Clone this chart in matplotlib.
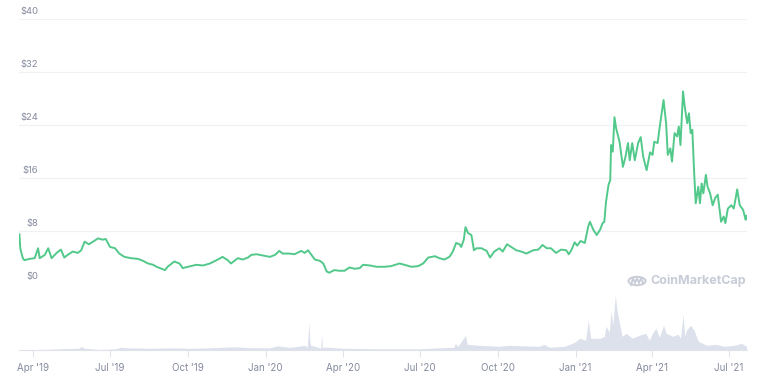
import matplotlib
matplotlib.use("Agg")
import matplotlib.pyplot as plt
import matplotlib.dates as mdates
import pandas as pd
from matplotlib.patches import Circle
from matplotlib.lines import Line2D

plt.rcParams['font.family'] = ['Inter', 'DejaVu Sans']

# price, USD
price_dates = [
    '2019-03-16', '2019-03-17', '2019-03-20', '2019-03-22', '2019-03-28', '2019-04-03', '2019-04-07',
    '2019-04-09', '2019-04-15', '2019-04-19', '2019-04-23', '2019-04-29', '2019-05-04', '2019-05-08',
    '2019-05-12', '2019-05-18', '2019-05-24', '2019-05-28', '2019-06-01', '2019-06-06', '2019-06-11',
    '2019-06-17', '2019-06-22', '2019-06-26', '2019-07-01', '2019-07-07', '2019-07-12', '2019-07-18',
    '2019-07-26', '2019-08-03', '2019-08-09', '2019-08-15', '2019-08-21', '2019-08-25', '2019-09-04',
    '2019-09-07', '2019-09-15', '2019-09-21', '2019-09-25', '2019-10-01', '2019-10-11', '2019-10-19',
    '2019-10-27', '2019-11-04', '2019-11-11', '2019-11-17', '2019-11-21', '2019-11-29', '2019-12-05',
    '2019-12-11', '2019-12-15', '2019-12-21', '2019-12-29', '2020-01-06', '2020-01-12', '2020-01-17',
    '2020-01-21', '2020-01-29', '2020-02-04', '2020-02-12', '2020-02-16', '2020-02-20', '2020-02-24',
    '2020-02-28', '2020-03-05', '2020-03-09', '2020-03-13', '2020-03-16', '2020-03-22', '2020-03-28',
    '2020-04-03', '2020-04-09', '2020-04-15', '2020-04-21', '2020-04-25', '2020-05-03', '2020-05-11',
    '2020-05-20', '2020-05-28', '2020-06-07', '2020-06-13', '2020-06-21', '2020-06-29', '2020-07-05',
    '2020-07-11', '2020-07-19', '2020-07-24', '2020-07-30', '2020-08-05', '2020-08-09', '2020-08-13',
    '2020-08-17', '2020-08-19', '2020-08-22', '2020-08-24', '2020-08-27', '2020-08-31', '2020-09-03',
    '2020-09-06', '2020-09-12', '2020-09-18', '2020-09-22', '2020-09-27', '2020-10-03', '2020-10-07',
    '2020-10-12', '2020-10-17', '2020-10-23', '2020-10-29', '2020-11-04', '2020-11-12', '2020-11-18',
    '2020-11-23', '2020-11-28', '2020-12-03', '2020-12-09', '2020-12-15', '2020-12-21', '2020-12-24',
    '2020-12-27', '2020-12-31', '2021-01-03', '2021-01-07', '2021-01-12', '2021-01-16', '2021-01-18',
    '2021-01-22', '2021-01-26', '2021-01-30', '2021-02-02', '2021-02-04', '2021-02-06', '2021-02-09',
    '2021-02-11', '2021-02-12', '2021-02-14', '2021-02-16', '2021-02-18', '2021-02-22', '2021-02-26',
    '2021-03-01', '2021-03-04', '2021-03-06', '2021-03-09', '2021-03-12', '2021-03-16', '2021-03-19',
    '2021-03-22', '2021-03-26', '2021-03-30', '2021-04-02', '2021-04-04', '2021-04-08', '2021-04-10',
    '2021-04-15', '2021-04-18', '2021-04-20', '2021-04-23', '2021-04-25', '2021-04-28', '2021-05-01',
    '2021-05-03', '2021-05-05', '2021-05-08', '2021-05-10', '2021-05-13', '2021-05-15', '2021-05-17',
    '2021-05-19', '2021-05-21', '2021-05-23', '2021-05-26', '2021-05-28', '2021-05-30', '2021-06-01',
    '2021-06-04', '2021-06-06', '2021-06-09', '2021-06-12', '2021-06-15', '2021-06-18', '2021-06-22',
    '2021-06-25', '2021-06-27', '2021-06-30', '2021-07-04', '2021-07-07', '2021-07-11', '2021-07-14',
    '2021-07-18', '2021-07-21', '2021-07-22',
]
price_usd = [
    7.5, 5.4, 3.9, 3.6, 3.8, 3.9, 5.4,
    3.9, 4.4, 5.4, 3.9, 4.7, 5.2, 4.0,
    4.4, 4.9, 4.7, 5.1, 6.4, 6.0, 6.4,
    6.9, 6.7, 6.8, 5.6, 5.4, 4.6, 4.1,
    3.9, 3.8, 3.5, 3.1, 2.9, 2.6, 2.1,
    2.6, 3.4, 3.1, 2.4, 2.6, 2.9, 2.8,
    3.1, 3.6, 4.1, 3.6, 3.1, 3.9, 3.7,
    4.0, 4.4, 4.5, 4.3, 4.1, 4.4, 5.0,
    4.6, 4.6, 4.5, 5.0, 4.7, 5.1, 4.4,
    3.7, 3.5, 3.1, 1.9, 1.7, 2.1, 2.0,
    2.0, 2.5, 2.3, 2.4, 2.9, 2.8, 2.6,
    2.6, 2.7, 3.1, 2.9, 2.6, 2.7, 3.1,
    4.0, 4.2, 3.9, 3.7, 4.1, 4.9, 6.2,
    6.0, 5.6, 6.7, 8.6, 7.7, 7.4, 5.1,
    5.4, 5.4, 5.0, 4.0, 4.9, 5.4, 4.9,
    6.0, 5.6, 5.1, 4.9, 4.6, 5.1, 5.2,
    5.9, 5.4, 5.4, 4.7, 5.2, 5.1, 4.5,
    5.1, 6.3, 5.8, 6.5, 6.2, 8.7, 9.4,
    8.2, 7.4, 8.2, 9.2, 9.4, 12.4, 15.0,
    15.7, 21.0, 20.0, 25.2, 23.5, 21.5, 17.7,
    19.2, 21.3, 18.7, 21.3, 18.7, 21.3, 22.2,
    19.2, 17.2, 19.9, 19.5, 21.5, 21.3, 23.3,
    27.8, 24.3, 19.5, 20.5, 18.5, 22.8, 22.3,
    23.8, 21.0, 29.1, 26.8, 24.3, 25.8, 22.8,
    23.3, 17.2, 12.2, 14.7, 12.2, 15.2, 13.7,
    16.5, 14.7, 13.7, 11.9, 13.0, 13.5, 9.4,
    10.2, 9.2, 11.4, 11.9, 11.4, 14.3, 11.9,
    11.2, 9.7, 10.3,
]

# volume, millions USD (no scale shown, relative)
vol_dates = [
    '2019-03-16', '2019-04-21', '2019-05-02', '2019-05-25', '2019-05-28', '2019-06-01', '2019-06-18',
    '2019-07-08', '2019-07-13', '2019-07-23', '2019-08-17', '2019-09-10', '2019-10-04', '2019-10-28',
    '2019-11-26', '2019-12-15', '2020-01-06', '2020-01-15', '2020-01-29', '2020-02-09', '2020-02-16',
    '2020-02-19', '2020-02-21', '2020-02-22', '2020-02-23', '2020-03-03', '2020-03-06', '2020-03-07',
    '2020-03-08', '2020-03-16', '2020-04-03', '2020-05-14', '2020-07-01', '2020-07-24', '2020-08-10',
    '2020-08-12', '2020-08-15', '2020-08-24', '2020-08-26', '2020-09-09', '2020-10-03', '2020-10-14',
    '2020-11-19', '2020-11-25', '2020-12-01', '2020-12-19', '2020-12-31', '2021-01-06', '2021-01-13',
    '2021-01-16', '2021-01-19', '2021-01-30', '2021-02-04', '2021-02-06', '2021-02-10', '2021-02-12',
    '2021-02-14', '2021-02-17', '2021-02-19', '2021-02-22', '2021-02-25', '2021-03-02', '2021-03-09',
    '2021-03-17', '2021-03-25', '2021-03-29', '2021-04-02', '2021-04-06', '2021-04-10', '2021-04-15',
    '2021-04-18', '2021-04-26', '2021-05-02', '2021-05-05', '2021-05-08', '2021-05-10', '2021-05-12',
    '2021-05-17', '2021-05-21', '2021-05-26', '2021-06-05', '2021-06-15', '2021-06-26', '2021-07-08',
    '2021-07-16', '2021-07-22',
]
vol_musd = [
    10, 20, 30, 40, 75, 40, 16,
    30, 60, 50, 40, 50, 40, 50,
    70, 50, 50, 90, 60, 80, 100,
    60, 560, 200, 100, 60, 40, 340,
    60, 60, 40, 30, 30, 50, 60,
    140, 80, 300, 120, 100, 80, 100,
    80, 120, 60, 80, 160, 240, 200,
    600, 240, 240, 280, 480, 360, 800,
    500, 1100, 800, 540, 280, 340, 240,
    300, 340, 200, 340, 440, 260, 500,
    340, 280, 320, 240, 720, 280, 400,
    500, 400, 180, 100, 120, 80, 100,
    140, 80,
]

y_ticks = [0, 8, 16, 24, 32, 40]
x_ticks = ['2019-04-01', '2019-07-01', '2019-10-01', '2020-01-01', '2020-04-01',
           '2020-07-01', '2020-10-01', '2021-01-01', '2021-04-01', '2021-07-01']
x_tick_labels = ["Apr '19", "Jul '19", "Oct '19", "Jan '20", "Apr '20",
                 "Jul '20", "Oct '20", "Jan '21", "Apr '21", "Jul '21"]

GREEN = '#52c98a'
GRAY_TXT = '#858a9e'
GRID = '#f0f1f4'
VOL = '#dde1ec'

W, H = 760, 376
x0 = pd.Timestamp('2019-03-15 12:00')
x1 = pd.Timestamp('2021-07-22 14:00')

fig = plt.figure(figsize=(W / 100, H / 100), dpi=100)

# price panel
ax = fig.add_axes([19 / W, (H - 284) / H, (747 - 19) / W, (284 - 19.3) / H])
ax.plot(pd.to_datetime(price_dates), price_usd, color=GREEN, lw=1.4, solid_joinstyle='round')
ax.set_xlim(x0, x1)
ax.set_ylim(0, 40)
for v in y_ticks:
    ax.axhline(v, color=GRID, lw=0.9, zorder=0)
    ax.annotate(f'${v}', xy=(38.3 / W, v), xycoords=('figure fraction', 'data'),
                xytext=(0, 2.5), textcoords='offset points', ha='right', va='bottom',
                fontsize=6.8, color=GRAY_TXT)
ax.set_xticks([])
ax.set_yticks([])
for s in ax.spines.values():
    s.set_visible(False)
ax.patch.set_alpha(0)

# volume panel
axv = fig.add_axes([19 / W, (H - 350.3) / H, (747 - 19) / W, 60.3 / H])
axv.fill_between(pd.to_datetime(vol_dates), vol_musd, 0, color=VOL, lw=0)
axv.set_xlim(x0, x1)
axv.set_ylim(0, 1206)
axv.set_yticks([])
axv.set_xticks(pd.to_datetime(x_ticks))
axv.set_xticklabels(x_tick_labels, fontsize=7, color=GRAY_TXT)
axv.tick_params(axis='x', length=5, width=0.8, color='#dfe2ea', pad=4)
for k in ['top', 'left', 'right']:
    axv.spines[k].set_visible(False)
axv.spines['bottom'].set_color('#dfe2ea')
axv.spines['bottom'].set_linewidth(0.8)
axv.patch.set_alpha(0)

# watermark
WM = '#c8ccd7'
fig.patches.append(Circle((637 / W, (H - 281) / H), 8.5 / W, transform=fig.transFigure,
                          fill=False, ec=WM, lw=1.4))
fig.lines.append(Line2D([631 / W, 633 / W, 635 / W, 637 / W, 639 / W, 641 / W, 643 / W],
                        [(H - 285) / H, (H - 278) / H, (H - 283) / H, (H - 278) / H,
                         (H - 283) / H, (H - 278) / H, (H - 283) / H],
                        transform=fig.transFigure, color=WM, lw=1.3))
fig.text(650 / W, (H - 281) / H, 'CoinMarketCap', fontsize=9, fontweight='bold',
         color=WM, ha='left', va='center')

fig.savefig('out.png', dpi=100)
